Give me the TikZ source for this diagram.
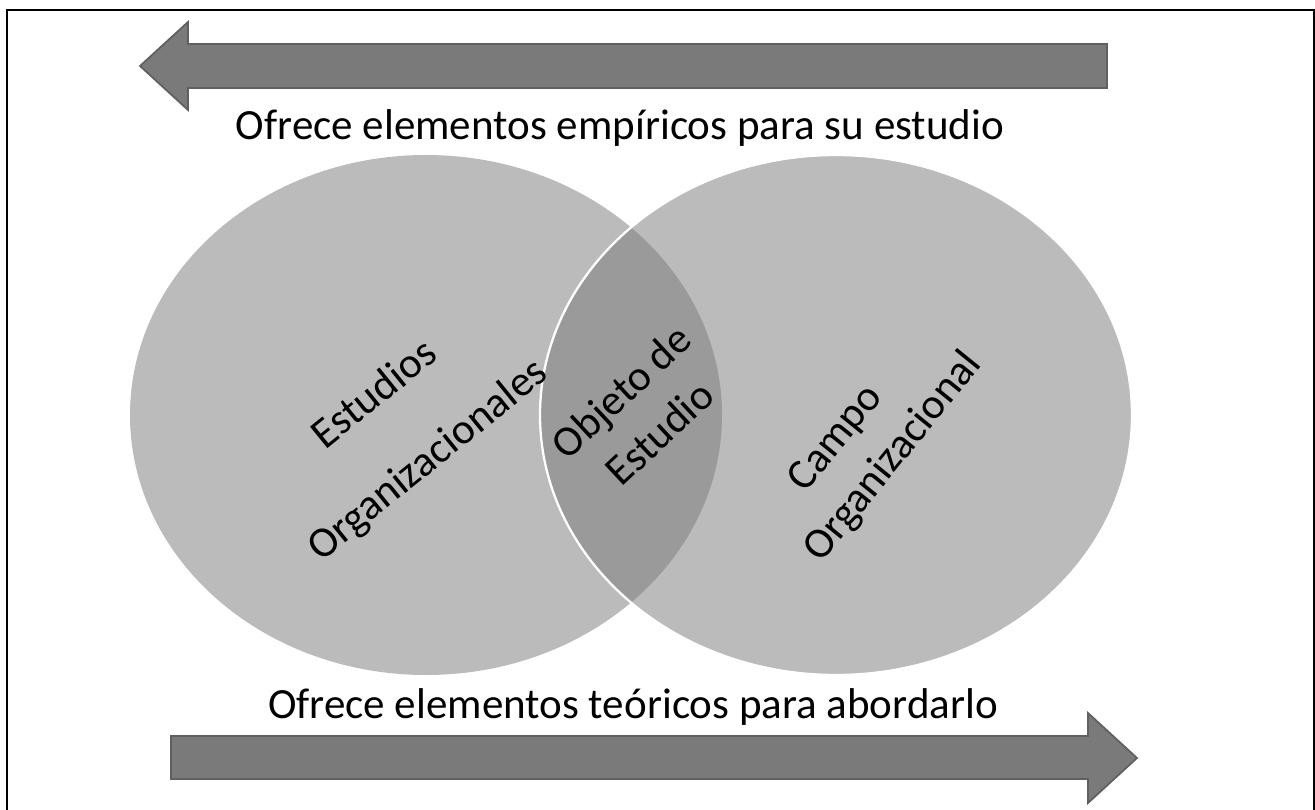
\documentclass[tikz,border=0pt]{standalone}
\usepackage{fontspec}
\setmainfont{Carlito}
\definecolor{circgray}{RGB}{187, 187, 187}
\definecolor{lensgray}{RGB}{154, 154, 154}
\definecolor{arrowgray}{RGB}{122, 122, 122}
\definecolor{arrowedge}{RGB}{96, 96, 96}
\usetikzlibrary{positioning}

\tikzset{
  blockarrow/.style={fill=arrowgray, draw=arrowedge, line width=1pt, line join=miter},
  caption/.style={font=\fontsize{24.5}{28}\selectfont, inner sep=0pt},
  vennlabel/.style={font=\fontsize{24.5}{32}\selectfont, align=center, inner sep=0pt}
}

\begin{document}
\begin{tikzpicture}[x=0.02cm, y=-0.02cm]
  \useasboundingbox (0,0) rectangle (1315,810);

  % frame
  \draw[line width=1.2pt] (7,812) -- (7,10) -- (1314,10) -- (1314,812);

  % top arrow (to the left)
  \draw[blockarrow] (140,66) -- (188,22) -- (188,44) -- (1107,44) -- (1107,88)
    -- (188,88) -- (188,110) -- cycle;
  \node[caption] (empiric) at (620,128) {Ofrece elementos empíricos para su estudio};

  % venn circles
  \coordinate (lc) at (426,415);
  \coordinate (rc) at (836,415);
  \fill[circgray] (lc) ellipse [x radius=296, y radius=260];
  \fill[circgray] (rc) ellipse [x radius=296, y radius=260];
  \begin{scope}
    \clip (lc) ellipse [x radius=296, y radius=260];
    \fill[lensgray] (rc) ellipse [x radius=296, y radius=260];
  \end{scope}
  \draw[white, line width=1.3pt] (rc) ellipse [x radius=296, y radius=260];

  \node[vennlabel, rotate=39, font=\fontsize{24.5}{48}\selectfont] (estudios) at (402,428) {Estudios\\Organizacionales};
  \node[vennlabel, rotate=43] (objeto) at (640,412) {Objeto de\\Estudio};
  \node[vennlabel, rotate=51] (campo) at (872,440) {Campo\hspace{1em}\mbox{}\\Organizacional};

  % bottom arrow (to the right)
  \node[caption] (teoric) at (633,707) {Ofrece elementos teóricos para abordarlo};
  \draw[blockarrow] (171,736) -- (1088,736) -- (1088,713) -- (1137,758) -- (1088,803)
    -- (1088,779) -- (171,779) -- cycle;
\end{tikzpicture}
\end{document}
